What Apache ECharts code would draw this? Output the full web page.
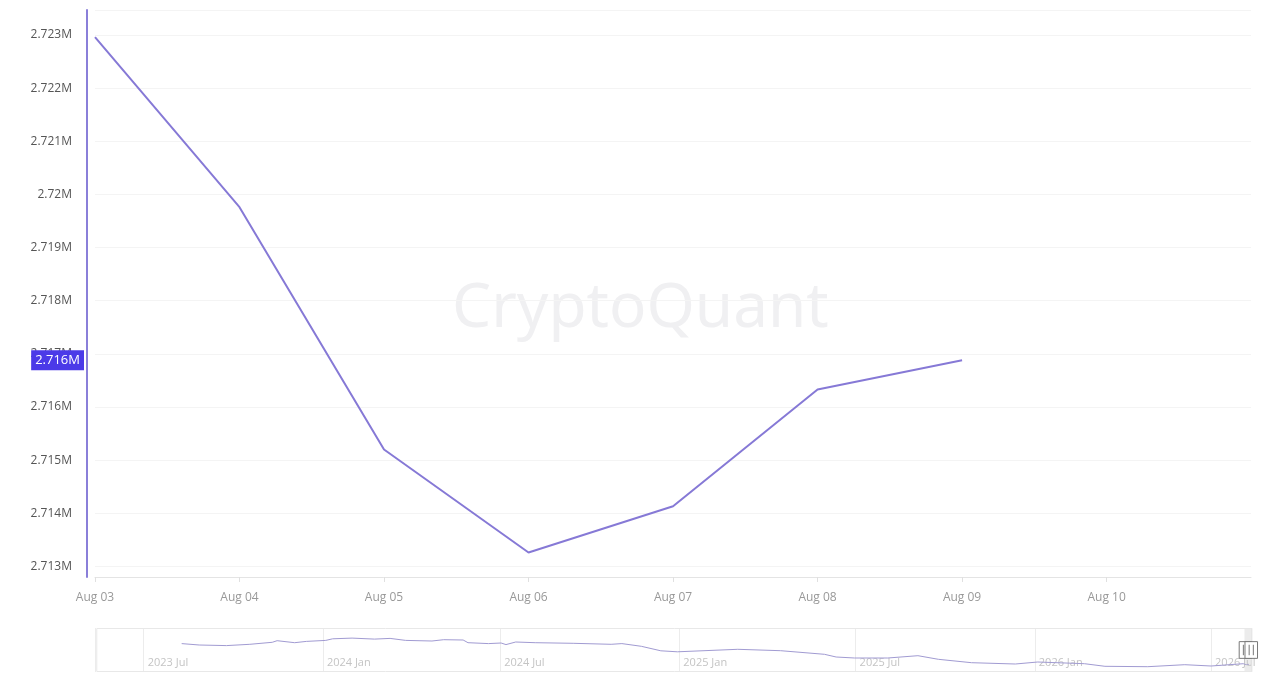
<!DOCTYPE html>
<html>
<head>
<meta charset="utf-8">
<script src="https://cdn.jsdelivr.net/npm/echarts@6/dist/echarts.min.js"></script>
<style>
html,body{margin:0;padding:0;background:#fff;}
#chart{width:1280px;height:688px;}
</style>
</head>
<body>
<div id="chart"></div>
<script>
// Main view: last week (daily)
const mainDates = ['2026-08-03','2026-08-04','2026-08-05','2026-08-06','2026-08-07','2026-08-08','2026-08-09'];
const mainValues = [2722960, 2719760, 2715200, 2713260, 2714130, 2716330, 2716880];

// Navigator history
const navDates = ['2023-08-09','2023-08-27','2023-09-24','2023-10-18','2023-11-10','2023-11-15','2023-12-03','2023-12-15',
  '2024-01-04','2024-01-11','2024-01-31','2024-02-23','2024-03-10','2024-03-26','2024-04-22','2024-05-04','2024-05-24',
  '2024-05-29','2024-06-19','2024-07-02','2024-07-07','2024-07-17','2024-08-06','2024-09-14','2024-10-23','2024-11-03',
  '2024-11-23','2024-12-13','2024-12-30','2025-03-02','2025-04-15','2025-05-30','2025-06-11','2025-06-30','2025-08-03',
  '2025-09-03','2025-09-24','2025-10-28','2025-12-12','2026-01-04','2026-02-21','2026-03-14','2026-04-27','2026-06-04',
  '2026-07-01'];
const navValues = [2924000,2910000,2904000,2917000,2937000,2953000,2933000,2946000,
  2956000,2972000,2979000,2969000,2976000,2956000,2950000,2963000,2960000,
  2933000,2924000,2930000,2914000,2940000,2933000,2927000,2917000,2924000,
  2897000,2852000,2842000,2867000,2853000,2817000,2790000,2780000,2780000,
  2803000,2767000,2733000,2720000,2740000,2723000,2697000,2693000,2713000,
  2700000];

const axisStart = '2023-05-12';
const axisEnd = '2026-08-10';

const MONTHS = ['Jan','Feb','Mar','Apr','May','Jun','Jul','Aug','Sep','Oct','Nov','Dec'];
const DAY = 86400000;
function toTime(s){ const p = s.split('-').map(Number); return new Date(p[0], p[1]-1, p[2]).getTime(); }
function pad(n){ return (n < 10 ? '0' : '') + n; }
function fmtM(v){ return (Math.floor(Math.round(v) / 1000) / 1000) + 'M'; }

const mainData = mainDates.map((d, i) => [toTime(d), mainValues[i]]);
const navData = navDates.map((d, i) => [toTime(d), navValues[i]]).concat(mainData);
const lastValue = mainValues[mainValues.length - 1];
const minT = toTime(axisStart);
const maxT = toTime(axisEnd) + DAY - 60000;

const chart = echarts.init(document.getElementById('chart'));
chart.setOption({
  animation: false,
  backgroundColor: '#ffffff',
  graphic: [{
    type: 'text', z: 0, left: 452, top: 278,
    style: { text: 'CryptoQuant', fontSize: 62, fontFamily: 'Noto Sans', fill: '#f0f0f2' }
  }],
  grid: [
    { left: 95, right: 29, top: 10, bottom: 111 },
    { left: 95, right: 29, top: 628, height: 44 }
  ],
  xAxis: [{
    type: 'time', gridIndex: 0, min: minT, max: maxT,
    splitNumber: 8, minInterval: DAY, maxInterval: DAY,
    axisLine: { show: true, lineStyle: { color: '#e4e4e4', width: 1 } },
    axisTick: { show: true, length: 5, lineStyle: { color: '#e0e0e0' } },
    splitLine: { show: false },
    axisLabel: {
      color: '#999', fontSize: 12, fontFamily: 'Open Sans', margin: 15,
      formatter: function (v) { const d = new Date(v); return MONTHS[d.getMonth()] + ' ' + pad(d.getDate()); }
    }
  }, {
    type: 'time', gridIndex: 1, min: minT, max: maxT,
    splitNumber: 6,
    axisLine: { show: false }, axisTick: { show: false },
    splitLine: { show: true, lineStyle: { color: '#ececec' } },
    axisLabel: {
      inside: true, align: 'left', margin: 4, color: '#c4c4c4', fontSize: 11, fontFamily: 'Open Sans',
      padding: [0, 0, 0, 4],
      formatter: function (v) { const d = new Date(v); return d.getFullYear() + ' ' + MONTHS[d.getMonth()]; }
    }
  }],
  yAxis: [{
    type: 'value', gridIndex: 0, min: 2712800, max: 2723470, splitNumber: 10,
    offset: 8,
    axisLine: { show: true, lineStyle: { color: '#8a7fd9', width: 2 } },
    axisTick: { show: false },
    splitLine: { show: true, lineStyle: { color: '#f4f4f4' } },
    axisLabel: {
      color: '#555', fontSize: 12, fontFamily: 'Open Sans', margin: 15,
      formatter: function (v) { return (Math.round(v) % 1000 === 0) ? fmtM(v) : ''; }
    }
  }, {
    type: 'value', gridIndex: 1, min: 2640000, max: 3080000,
    axisLine: { show: false }, axisTick: { show: false }, axisLabel: { show: false },
    splitLine: { show: false }
  }],
  dataZoom: [{
    type: 'slider', xAxisIndex: 0,
    startValue: toTime(mainDates[0]), endValue: maxT,
    left: 95, right: 29, top: 628, height: 44,
    showDataShadow: false, showDetail: false, brushSelect: false,
    moveHandleSize: 0,
    backgroundColor: 'rgba(0,0,0,0)',
    borderColor: '#e8e8e8',
    fillerColor: 'rgba(200,200,200,0.35)',
    handleIcon: 'path://M0,0H12V16H0Z M4,3V13 M8,3V13',
    handleSize: '38%',
    handleStyle: { color: '#ffffff', borderColor: '#777', borderWidth: 1 }
  }],
  series: [{
    type: 'line', xAxisIndex: 0, yAxisIndex: 0,
    data: mainData, showSymbol: false, z: 5,
    lineStyle: { color: '#8679d6', width: 2 },
    itemStyle: { color: '#8679d6' },
    markLine: {
      silent: true, symbol: ['none', 'none'], z: 10,
      lineStyle: { color: 'rgba(0,0,0,0)', width: 1, type: 'solid' },
      emphasis: { disabled: true },
      label: {
        show: true, position: 'start', distance: 11,
        formatter: function () { return fmtM(lastValue); },
        backgroundColor: '#4b3ae8', color: '#ffffff', fontSize: 13, fontFamily: 'Open Sans',
        padding: [4, 4, 3, 4]
      },
      data: [{ yAxis: lastValue }]
    }
  }, {
    type: 'line', xAxisIndex: 1, yAxisIndex: 1,
    data: navData, showSymbol: false, silent: true,
    lineStyle: { color: '#a19bd2', width: 1 }
  }]
});
</script>
</body>
</html>
